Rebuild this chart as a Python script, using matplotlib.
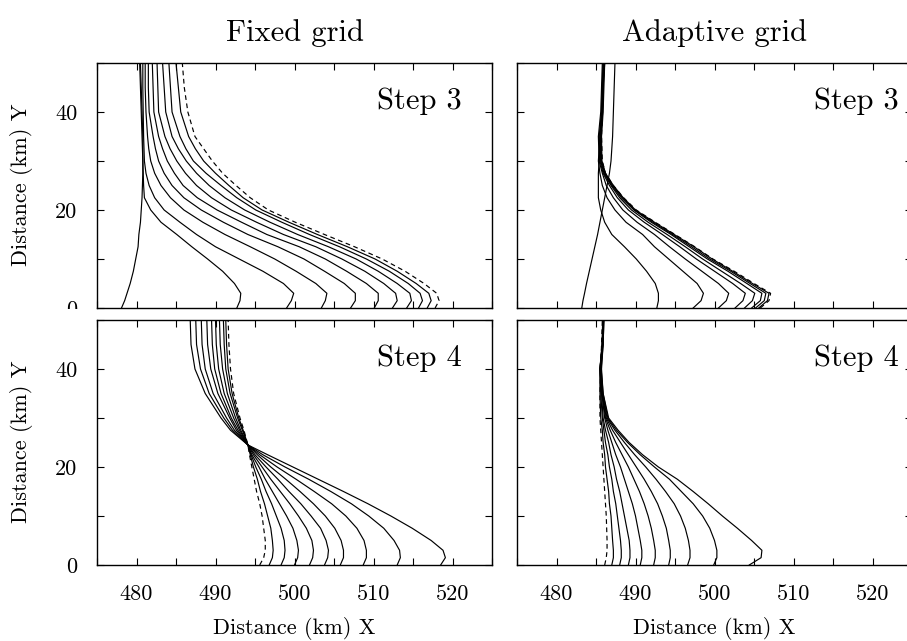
import matplotlib
matplotlib.use("Agg")
import matplotlib.pyplot as plt
from matplotlib.patches import Rectangle

plt.rcParams['font.family'] = 'cmr10'
plt.rcParams['mathtext.fontset'] = 'cm'
plt.rcParams['axes.formatter.use_mathtext'] = True

# Heights (km) at which each front position was sampled.
y_grid = [0, 1.5, 3, 5, 7.5, 10, 12.5, 15, 17.5, 20, 22.5, 25, 27.5, 30, 35, 40, 45, 50]
y_grid_fixed3 = [0, 1.5, 3, 5, 7.5, 10, 12.5, 15, 17.5, 20, 22.5, 25, 27.5, 30, 32.5, 35, 40, 45, 50]
y_grid_fixed4 = [0, 1.5, 3, 5, 7.5, 10, 12.5, 15, 17.5, 20, 22.5, 24.5, 27.5, 30, 35, 40, 45, 50]

# Fixed grid, step 3
fixed3_init = [478.1, 478.5, 478.8, 479.2, 479.6, 479.9, 480.2, 480.3, 480.5, 480.6, 480.7, 480.75, 480.8, 480.8, 480.75, 480.7, 480.6, 480.5, 480.4]
fixed3_curves = [
    [492.7, 493.1, 493.2, 492.4, 490.9, 489.0, 487.0, 485.1, 483.1, 481.8, 481.0, 480.9, 480.85, 480.8, 480.8, 480.8, 480.7, 480.6, 480.5],
    [499.0, 499.6, 499.9, 498.6, 496.0, 493.0, 490.0, 487.6, 485.5, 483.5, 482.3, 481.6, 481.2, 481.0, 480.95, 480.9, 480.85, 480.8, 480.8],
    [503.4, 503.9, 504.1, 502.7, 500.2, 497.5, 494.4, 491.2, 488.4, 486.0, 484.3, 483.1, 482.3, 481.8, 481.55, 481.4, 481.2, 481.1, 481.1],
    [507.1, 507.7, 507.7, 506.3, 503.8, 501.2, 497.9, 494.1, 491.0, 488.2, 486.0, 484.5, 483.5, 482.8, 482.4, 482.1, 481.6, 481.5, 481.5],
    [510.1, 510.6, 510.6, 509.1, 506.6, 503.9, 500.6, 496.5, 493.3, 490.2, 487.7, 485.9, 484.8, 483.9, 483.3, 482.8, 482.2, 482.1, 482.0],
    [512.4, 513.0, 512.8, 511.3, 508.9, 506.0, 502.7, 498.6, 495.2, 492.0, 489.5, 487.6, 486.2, 485.1, 484.25, 483.6, 482.8, 482.7, 482.6],
    [514.2, 514.8, 514.6, 513.0, 510.6, 507.8, 504.3, 500.4, 496.9, 493.7, 491.2, 489.2, 487.6, 486.3, 485.3, 484.5, 483.7, 483.5, 483.3],
    [515.7, 516.2, 515.9, 514.4, 512.0, 509.1, 505.7, 501.9, 498.4, 495.1, 492.7, 490.7, 488.8, 487.2, 486.25, 485.5, 484.5, 484.3, 484.1],
    [516.8, 517.3, 517.0, 515.4, 513.0, 510.2, 506.7, 502.9, 499.3, 495.9, 493.5, 491.7, 490.0, 488.5, 487.45, 486.6, 485.6, 485.3, 485.0],
]
fixed3_dash = [517.8, 518.3, 518.0, 516.4, 514.0, 511.1, 507.6, 503.8, 500.1, 496.7, 494.4, 492.6, 490.9, 489.6, 488.5, 487.4, 486.5, 486.05, 485.8]

# Adaptive grid, step 3
adapt3_init = [483.2, 483.35, 483.55, 483.8, 484.15, 484.5, 484.85, 485.2, 485.5, 485.8, 486.1, 486.4, 486.7, 486.9, 487.1, 487.2, 487.3, 487.4]
adapt3_curves = [
    [492.7, 492.9, 492.9, 492.5, 491.4, 490.1, 488.6, 487.0, 486.1, 485.6, 485.3, 485.3, 485.3, 485.4, 485.6, 485.8, 485.9, 486.0],
    [497.3, 498.3, 498.6, 497.8, 496.0, 494.2, 492.4, 490.9, 488.8, 487.4, 486.4, 485.8, 485.5, 485.3, 485.5, 485.7, 485.8, 485.9],
    [500.5, 501.5, 501.8, 500.5, 498.4, 496.3, 494.3, 492.4, 490.2, 488.4, 487.2, 486.3, 485.8, 485.4, 485.3, 485.6, 485.7, 485.8],
    [502.6, 503.6, 503.9, 502.3, 500.0, 497.7, 495.6, 493.4, 491.1, 489.1, 487.7, 486.7, 485.9, 485.5, 485.4, 485.7, 485.8, 485.9],
    [503.8, 504.8, 505.1, 503.3, 500.9, 498.5, 496.3, 494.0, 491.6, 489.5, 488.0, 486.9, 486.0, 485.6, 485.5, 485.8, 485.9, 486.0],
    [504.7, 505.8, 506.0, 504.1, 501.7, 499.1, 496.8, 494.5, 492.0, 489.8, 488.2, 487.0, 486.1, 485.6, 485.6, 485.75, 485.85, 486.0],
    [505.2, 506.3, 506.5, 504.5, 502.05, 499.4, 497.1, 494.7, 492.2, 489.9, 488.35, 487.1, 486.15, 485.7, 485.6, 485.85, 485.9, 486.1],
    [505.6, 506.7, 506.9, 504.8, 502.3, 499.7, 497.4, 494.9, 492.4, 490.0, 488.45, 487.2, 486.2, 485.75, 485.7, 485.9, 486.0, 486.1],
]
adapt3_dash = [505.8, 506.9, 507.1, 505.0, 502.5, 499.8, 497.5, 495.0, 492.5, 490.1, 488.5, 487.2, 486.2, 485.8, 485.7, 485.8, 485.9, 486.0]

# Fixed grid, step 4
fixed4_curves = [
    [496.8, 497.2, 497.3, 497.2, 497.0, 496.6, 496.2, 495.7, 495.3, 494.8, 494.4, 494.1, 493.5, 492.95, 492.1, 491.6, 491.4, 491.3],
    [498.3, 498.7, 498.8, 498.7, 498.3, 497.7, 497.1, 496.4, 495.8, 495.1, 494.5, 494.1, 493.4, 492.8, 491.85, 491.3, 491.1, 491.0],
    [500.0, 500.4, 500.5, 500.3, 499.8, 499.0, 498.1, 497.2, 496.3, 495.5, 494.6, 494.1, 493.2, 492.55, 491.5, 490.9, 490.6, 490.5],
    [501.9, 502.3, 502.4, 502.2, 501.5, 500.5, 499.4, 498.2, 497.0, 495.9, 494.8, 494.1, 493.05, 492.3, 491.1, 490.4, 490.1, 490.0],
    [503.8, 504.2, 504.3, 504.0, 503.3, 502.1, 500.8, 499.3, 497.9, 496.4, 495.0, 494.1, 492.85, 492.0, 490.7, 489.9, 489.6, 489.5],
    [505.8, 506.2, 506.2, 505.9, 505.1, 503.9, 502.4, 500.7, 498.9, 497.0, 495.3, 494.1, 492.65, 491.8, 490.3, 489.4, 489.0, 488.9],
    [508.7, 509.1, 509.1, 508.8, 507.9, 506.5, 504.7, 502.5, 500.2, 497.8, 495.6, 494.1, 492.4, 491.4, 489.7, 488.7, 488.3, 488.2],
    [513.0, 513.4, 513.3, 512.6, 511.3, 509.4, 507.2, 504.6, 501.8, 498.8, 496.0, 494.1, 492.15, 491.05, 489.2, 488.1, 487.6, 487.5],
    [518.5, 519.1, 518.8, 517.3, 514.9, 512.2, 509.3, 506.2, 503.0, 499.8, 496.6, 494.1, 491.9, 490.7, 488.7, 487.4, 486.9, 486.8],
]
fixed4_dash = [495.6, 496.1, 496.3, 496.3, 496.1, 495.9, 495.6, 495.2, 494.9, 494.6, 494.3, 494.1, 493.6, 493.1, 492.3, 491.9, 491.7, 491.6]

# Adaptive grid, step 4
adapt4_curves = [
    [487.0, 487.2, 487.2, 487.1, 487.0, 486.9, 486.7, 486.6, 486.4, 486.2, 486.1, 485.9, 485.8, 485.6, 485.5, 485.5, 485.75, 485.85],
    [488.0, 488.2, 488.2, 488.1, 487.9, 487.7, 487.5, 487.2, 487.0, 486.7, 486.5, 486.2, 486.0, 485.8, 485.6, 485.5, 485.8, 485.9],
    [489.1, 489.3, 489.3, 489.2, 488.9, 488.6, 488.3, 488.0, 487.6, 487.3, 486.9, 486.6, 486.2, 485.9, 485.7, 485.5, 485.8, 485.9],
    [490.6, 490.8, 490.8, 490.6, 490.3, 490.0, 489.6, 489.1, 488.6, 488.1, 487.5, 487.0, 486.5, 486.1, 485.75, 485.5, 485.8, 485.9],
    [492.3, 492.5, 492.5, 492.3, 492.0, 491.6, 491.1, 490.5, 489.8, 489.1, 488.3, 487.5, 486.8, 486.2, 485.8, 485.55, 485.85, 485.95],
    [494.2, 494.4, 494.4, 494.2, 493.9, 493.4, 492.8, 492.0, 491.1, 490.1, 489.1, 488.1, 487.1, 486.3, 485.8, 485.6, 485.85, 485.95],
    [496.6, 496.9, 496.9, 496.7, 496.3, 495.7, 494.9, 493.8, 492.6, 491.3, 489.9, 488.6, 487.4, 486.4, 485.85, 485.6, 485.85, 485.95],
    [499.9, 500.3, 500.3, 500.0, 499.4, 498.5, 497.3, 495.8, 494.3, 492.4, 490.6, 489.0, 487.6, 486.5, 485.9, 485.65, 485.9, 486.0],
    [504.4, 505.9, 506.0, 504.7, 502.9, 501.0, 499.2, 497.3, 495.3, 492.9, 490.9, 489.2, 487.8, 486.6, 485.9, 485.7, 485.9, 486.0],
]
adapt4_dash = [486.1, 486.3, 486.4, 486.4, 486.35, 486.3, 486.2, 486.1, 486.0, 485.9, 485.8, 485.7, 485.6, 485.5, 485.5, 485.6, 485.7, 485.8]

x_ticks = [475, 480, 485, 490, 495, 500, 505, 510, 515, 520, 525]
x_labels = ['', '480', '', '490', '', '500', '', '510', '', '520', '']
y_ticks = [0, 10, 20, 30, 40, 50]
y_labels = ['0', '', '20', '', '40', '']

W, H = 907, 641
fig = plt.figure(figsize=(W / 100, H / 100), dpi=100)


def px_axes(left, top, width, height):
    return fig.add_axes([left / W, 1 - (top + height) / H, width / W, height / H])


ax_f3 = px_axes(97, 63, 395, 245)
ax_a3 = px_axes(517, 63, 395, 245)
ax_f4 = px_axes(97, 320, 395, 245)
ax_a4 = px_axes(517, 320, 395, 245)

lw = 0.85
dash_style = (0, (4, 3))

ax_f3.plot(fixed3_init, y_grid_fixed3, color='black', lw=lw)
for xs in fixed3_curves:
    ax_f3.plot(xs, y_grid_fixed3, color='black', lw=lw)
ax_f3.plot(fixed3_dash, y_grid_fixed3, color='black', lw=lw, ls=dash_style)

ax_a3.plot(adapt3_init, y_grid, color='black', lw=lw)
for xs in adapt3_curves:
    ax_a3.plot(xs, y_grid, color='black', lw=lw)
ax_a3.plot(adapt3_dash, y_grid, color='black', lw=lw, ls=dash_style)

for xs in fixed4_curves:
    ax_f4.plot(xs, y_grid_fixed4, color='black', lw=lw)
ax_f4.plot(fixed4_dash, y_grid_fixed4, color='black', lw=lw, ls=dash_style)

for xs in adapt4_curves:
    ax_a4.plot(xs, y_grid, color='black', lw=lw)
ax_a4.plot(adapt4_dash, y_grid, color='black', lw=lw, ls=dash_style)

for ax in (ax_f3, ax_a3, ax_f4, ax_a4):
    ax.set_xlim(475, 525)
    ax.set_ylim(0, 50)
    ax.set_xticks(x_ticks)
    ax.set_yticks(y_ticks)
    ax.tick_params(direction='in', length=5, width=0.8, top=True, right=True,
                   labelsize=16, pad=14)
    for sp in ax.spines.values():
        sp.set_linewidth(1.0)

for ax in (ax_f3, ax_a3):
    ax.set_xticklabels([''] * len(x_ticks))
for ax in (ax_f4, ax_a4):
    ax.set_xticklabels(x_labels)
for ax in (ax_f3, ax_f4):
    ax.set_yticklabels(y_labels)
for ax in (ax_a3, ax_a4):
    ax.set_yticklabels([''] * len(y_ticks))

ax_f3.text(521.2, 40.6, 'Step 3', fontsize=22, ha='right', va='baseline')
ax_a3.text(523.3, 40.6, 'Step 3', fontsize=22, ha='right', va='baseline')
ax_f4.text(521.2, 40.6, 'Step 4', fontsize=22, ha='right', va='baseline')
ax_a4.text(523.3, 40.6, 'Step 4', fontsize=22, ha='right', va='baseline')

fig.text(294.5 / W, 1 - 33 / H, 'Fixed grid', fontsize=22, ha='center', va='center')
fig.text(714.5 / W, 1 - 33 / H, 'Adaptive grid', fontsize=22, ha='center', va='center')

fig.text(294.5 / W, 1 - 628 / H, 'Distance (km) X', fontsize=16, ha='center', va='center')
fig.text(714.5 / W, 1 - 628 / H, 'Distance (km) X', fontsize=16, ha='center', va='center')
fig.text(22 / W, 1 - 185 / H, 'Distance (km) Y', fontsize=16, ha='center', va='center', rotation=90)
fig.text(22 / W, 1 - 442 / H, 'Distance (km) Y', fontsize=16, ha='center', va='center', rotation=90)

# the lower panels overlap the bottom of the upper "0" labels
fig.add_artist(Rectangle((40 / W, 1 - 319 / H), 55 / W, 10 / H,
                         transform=fig.transFigure, facecolor='white',
                         edgecolor='none', zorder=5))

fig.savefig('out.png', dpi=100)
